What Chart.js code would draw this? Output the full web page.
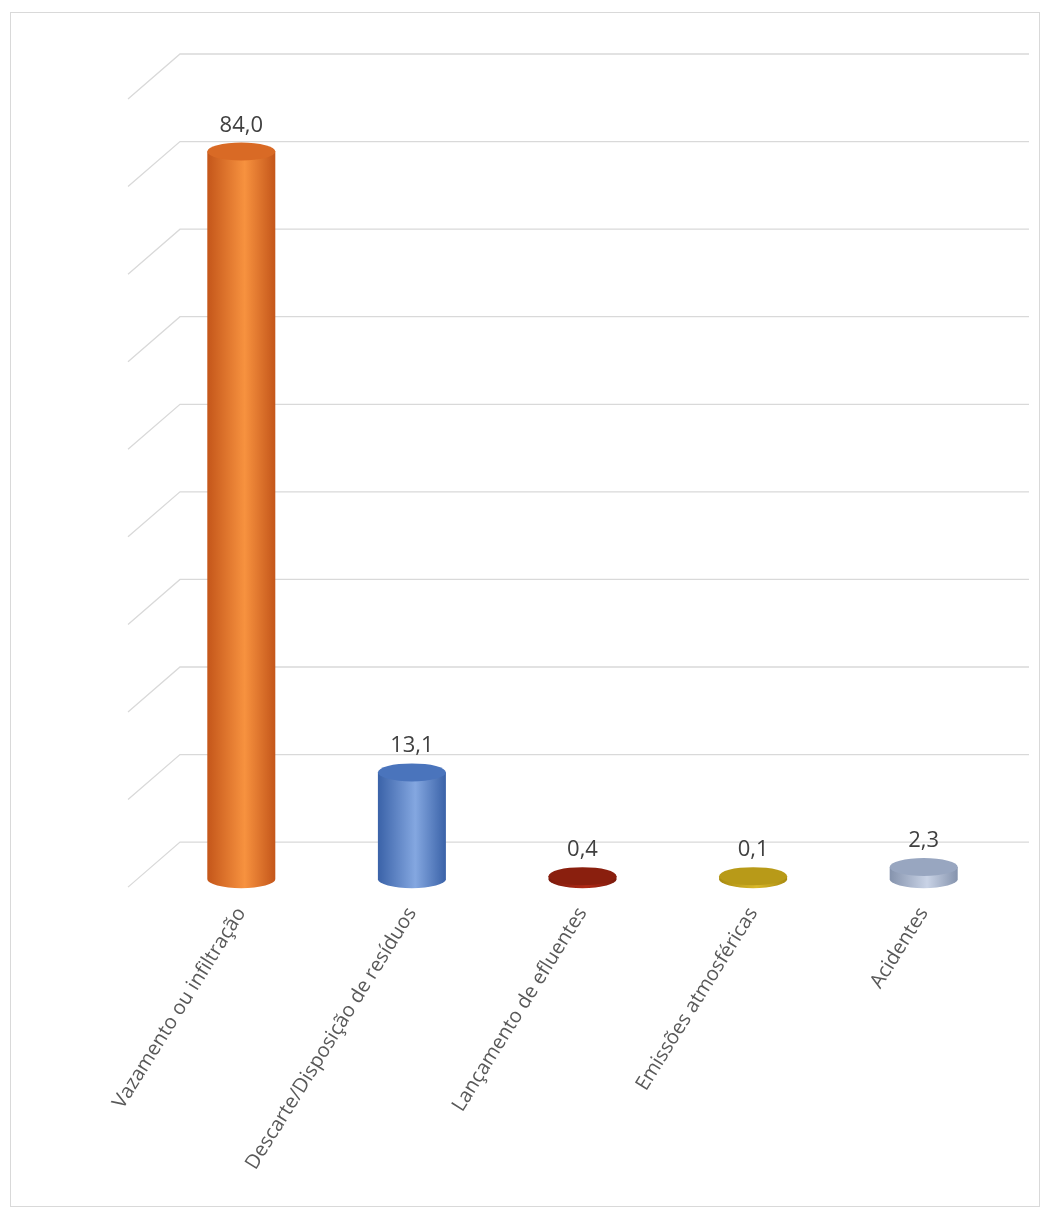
<!DOCTYPE html><html><head><meta charset="utf-8">
<script src="https://cdn.jsdelivr.net/npm/chart.js@4"></script>
<style>body{margin:0;background:#fff}#w{position:absolute;left:10px;top:12px;width:1030px;height:1195px;border:1px solid #d9d9d9;box-sizing:border-box}</style>
</head><body><div id="w"><canvas id="c"></canvas></div>
<script>
const categories=["Vazamento ou infiltração","Descarte/Disposição de resíduos","Lançamento de efluentes","Emissões atmosféricas","Acidentes"];
const values=[84.0,13.1,0.4,0.1,2.3];
const labels=["84,0","13,1","0,4","0,1","2,3"];
const colors=[["#C4561A","#F7923F","#D96A25"],["#3A62A8","#84A7E0","#4A74BC"],["#7A1A0C","#B02A16","#8A1F0E"],["#A88A10","#D9B82A","#B89A18"],["#8593AD","#C9D3E6","#98A6C0"]];
const cyl={id:'cyl',beforeDatasetsDraw(ch){const c=ch.ctx,y=ch.scales.y,a=ch.chartArea;c.save();c.strokeStyle='#d9d9d9';c.lineWidth=1.3;
for(let v=0;v<=90;v+=10){const p=y.getPixelForValue(v);c.beginPath();c.moveTo(a.left-28,p);c.lineTo(a.left+24,p-45);c.lineTo(a.right+20,p-45);c.stroke();}c.restore();},
afterDatasetsDraw(ch){const c=ch.ctx,m=ch.getDatasetMeta(0);c.save();m.data.forEach((b,i)=>{const w=b.width,x=b.x,base=b.base-8,top=Math.min(b.y,base-3),rx=w/2,ry=9;const col=colors[i];
const g=c.createLinearGradient(x-rx,0,x+rx,0);g.addColorStop(0,col[0]);g.addColorStop(0.55,col[1]);g.addColorStop(1,col[0]);
c.fillStyle=g;c.beginPath();c.moveTo(x-rx,top);c.lineTo(x-rx,base);c.ellipse(x,base,rx,ry,0,Math.PI,0,true);c.lineTo(x+rx,top);c.closePath();c.fill();
c.fillStyle=col[2];c.beginPath();c.ellipse(x,top,rx,ry,0,0,Math.PI*2);c.fill();
c.fillStyle='#404040';c.font='22px "Open Sans",sans-serif';c.textAlign='center';c.fillText(labels[i],x,top-20);});c.restore();}};
new Chart(document.getElementById('c'),{type:'bar',data:{labels:categories,datasets:[{data:values,backgroundColor:'rgba(0,0,0,0)',barThickness:68}]},
options:{responsive:true,maintainAspectRatio:false,animation:false,layout:{padding:{left:145,right:30,top:86,bottom:24}},
plugins:{legend:{display:false},tooltip:{enabled:false}},
scales:{y:{min:0,max:90,display:false},x:{grid:{display:false},border:{display:false},ticks:{color:'#595959',font:{size:20,family:'"Open Sans",sans-serif'},minRotation:58,maxRotation:58,padding:8}}}},plugins:[cyl]});
</script></body></html>
